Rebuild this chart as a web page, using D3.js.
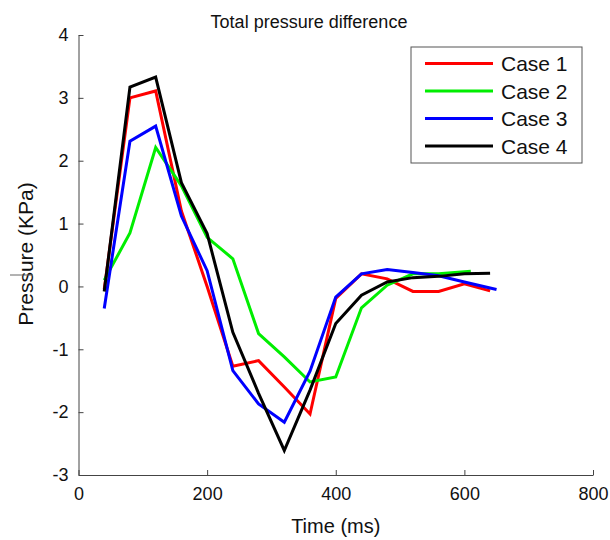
<!DOCTYPE html>
<html>
<head>
<meta charset="utf-8">
<script src="https://cdn.jsdelivr.net/npm/d3@7"></script>
<style>
  body { margin: 0; background: #fff; }
  text { font-family: "Liberation Sans", Arial, sans-serif; fill: #111; }
</style>
</head>
<body>
<div id="container"></div>
<script>
/* CONSTANTS AND GLOBALS */
const width = 610,
  height = 540,
  margin = { top: 35, bottom: 65, left: 78.5, right: 17 };

// time points (ms); case 2 and case 3 end a little off the common grid
const time = [40, 80, 120, 160, 200, 240, 280, 320, 360, 400, 440, 480, 520, 560, 600, 640]
const time2 = [40, 80, 120, 160, 200, 240, 280, 320, 360, 400, 440, 480, 520, 560, 610]
const time3 = [40, 80, 120, 160, 200, 240, 280, 320, 360, 400, 440, 480, 520, 560, 600, 650]

// pressure difference (KPa)
const case1 = [-0.05, 3.0, 3.11, 1.2, 0.0, -1.27, -1.18, -1.6, -2.03, -0.19, 0.2, 0.12, -0.08, -0.08, 0.04, -0.07]
const case2 = [0.1, 0.85, 2.21, 1.6, 0.78, 0.44, -0.75, -1.12, -1.52, -1.44, -0.34, 0.02, 0.2, 0.2, 0.24]
const case3 = [-0.35, 2.31, 2.55, 1.12, 0.25, -1.34, -1.87, -2.16, -1.35, -0.17, 0.2, 0.27, 0.22, 0.17, 0.07, -0.05]
const case4 = [-0.08, 3.17, 3.33, 1.65, 0.84, -0.73, -1.7, -2.61, -1.65, -0.59, -0.14, 0.07, 0.14, 0.16, 0.2, 0.21]

const caseNames = ["Case 1", "Case 2", "Case 3", "Case 4"]
const caseColors = ["#ff0000", "#00ee00", "#0000ff", "#000000"]
const xTicks = [0, 200, 400, 600, 800]
const yTicks = [-3, -2, -1, 0, 1, 2, 3, 4]

const caseTimes = [time, time2, time3, time]
const series = [case1, case2, case3, case4].map((vals, i) => ({
  name: caseNames[i],
  color: caseColors[i],
  values: vals.map((v, j) => ({ t: caseTimes[i][j], p: v }))
}))

const svg = d3.select("#container")
  .append("svg")
  .attr("width", width)
  .attr("height", height);

const xScale = d3.scaleLinear()
  .domain([0, 800])
  .range([margin.left, width - margin.right])

const yScale = d3.scaleLinear()
  .domain([-3, 4])
  .range([height - margin.bottom, margin.top])

// axes, ticks pointing inward
const xAxis = d3.axisBottom(xScale)
  .tickValues(xTicks)
  .tickFormat(d => String(d))
  .tickSizeInner(-5)
  .tickSizeOuter(0)
  .tickPadding(12)

const yAxis = d3.axisLeft(yScale)
  .tickValues(yTicks)
  .tickFormat(d => String(d))
  .tickSizeInner(-5)
  .tickSizeOuter(0)
  .tickPadding(10)

svg.append("g")
  .attr("transform", `translate(0,${height - margin.bottom})`)
  .call(xAxis)

svg.append("g")
  .attr("transform", `translate(${margin.left},0)`)
  .call(yAxis)

svg.selectAll(".domain, .tick line").attr("stroke", "#444")
svg.selectAll(".tick text")
  .style("font-family", "'Liberation Sans', Arial, sans-serif")
  .style("font-size", "18px")
  .attr("fill", "#111")

// lines
const lineGen = d3.line()
  .x(d => xScale(d.t))
  .y(d => yScale(d.p))

svg.selectAll("path.case")
  .data(series)
  .join("path")
  .attr("class", "case")
  .attr("d", d => lineGen(d.values))
  .attr("fill", "none")
  .attr("stroke", d => d.color)
  .attr("stroke-width", 3)
  .attr("stroke-linejoin", "miter")

// title and axis labels
svg.append("text")
  .attr("x", 309)
  .attr("y", 28)
  .attr("text-anchor", "middle")
  .style("font-size", "18px")
  .text("Total pressure difference")

svg.append("text")
  .attr("x", (margin.left + width - margin.right) / 2)
  .attr("y", 533)
  .attr("text-anchor", "middle")
  .style("font-size", "20px")
  .text("Time (ms)")

svg.append("text")
  .attr("transform", `translate(33,254) rotate(-90)`)
  .attr("text-anchor", "middle")
  .style("font-size", "21px")
  .text("Pressure (KPa)")

// small stray stroke over the y label, as in the original
svg.append("line")
  .attr("x1", 10).attr("x2", 33)
  .attr("y1", 275).attr("y2", 275)
  .attr("stroke", "#666")
  .attr("stroke-width", 1)

// legend
const legend = svg.append("g").attr("transform", "translate(411,47)")

legend.append("rect")
  .attr("width", 171)
  .attr("height", 116)
  .attr("fill", "#fff")
  .attr("stroke", "#555")
  .attr("stroke-width", 1)

const items = legend.selectAll("g.item")
  .data(series)
  .join("g")
  .attr("class", "item")
  .attr("transform", (d, i) => `translate(0,${16.5 + i * 27.5})`)

items.append("line")
  .attr("x1", 14).attr("x2", 82)
  .attr("stroke", d => d.color)
  .attr("stroke-width", 3)

items.append("text")
  .attr("x", 90)
  .attr("dy", "0.36em")
  .style("font-size", "21px")
  .text(d => d.name)
</script>
</body>
</html>
